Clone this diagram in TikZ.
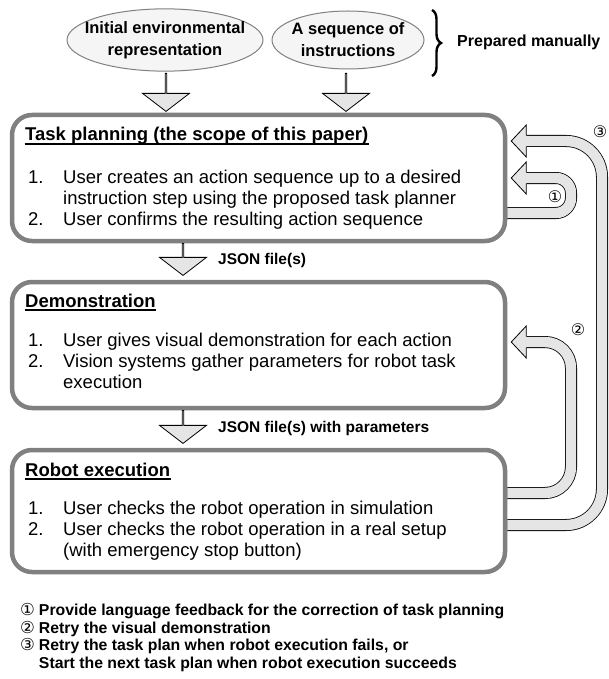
\documentclass[tikz,border=0pt]{standalone}
\usepackage{fontspec}
\setmainfont{Liberation Sans}
\newfontfamily\circfont{DejaVu Sans}
\usetikzlibrary{shapes.geometric,shapes.arrows,decorations.pathreplacing,calc}

\begin{document}
\begin{tikzpicture}[x=1pt, y=-1pt,
    source/.style={ellipse, draw=gray, line width=1pt, fill=gray!8, inner xsep=-14pt, minimum height=58pt, align=center, font=\fontsize{16.5}{22}\selectfont\bfseries},
    stage/.style={draw=gray, line width=4.5pt, rounded corners=20pt, minimum width=493pt},
    heading/.style={anchor=base west, inner sep=0pt, font=\fontsize{18.5}{21}\selectfont\bfseries},
    underbar/.style={line width=1.4pt, shorten <=-0.5pt, shorten >=-0.5pt},
    items/.style={anchor=base west, inner sep=0pt, font=\fontsize{18.5}{21}\selectfont},
    flow/.style={single arrow, draw, fill=gray!20, line width=0.8pt, rotate=-90, anchor=tail, inner sep=0pt, minimum width=47pt, single arrow head extend=12.5pt, single arrow tip angle=105},
    filelabel/.style={anchor=west, inner sep=0pt, font=\fontsize{15.5}{18}\selectfont\bfseries},
    band/.style={line width=10.4pt, gray!20, preaction={draw=black, line width=12pt}},
    loopnum/.style={font=\fontsize{16}{18}\selectfont\circfont}
]
\useasboundingbox (0,0) rectangle (609,679);

% Inputs prepared by hand
\node[source, minimum width=196pt] (envrep) at (165,40) {Initial environmental\\representation};
\node[source, minimum width=152pt] (instr) at (348,40) {A sequence of\\instructions};
\draw[decorate, decoration={brace, amplitude=9pt}, line width=2.4pt] (432,10) -- (432,76);
\node[anchor=west, inner sep=0pt, font=\fontsize{16}{18}\selectfont\bfseries] (prep) at (457,42) {Prepared manually};

% Stages
\node[stage, minimum height=126pt] (plan) at (258.5,178) {};
\node[stage, minimum height=126pt] (demo) at (258.5,345) {};
\node[stage, minimum height=122pt] (exec) at (258.5,511) {};

% Stage texts
\node[heading] (planhead) at (25,141) {Task planning (the scope of this paper)};
\node[items] (planitems) at (28,183) {\begin{tabular}[t]{@{}p{35pt}@{}l@{}}
1.&User creates an action sequence up to a desired\\
  &instruction step using the proposed task planner\\
2.&User confirms the resulting action sequence
\end{tabular}};
\node[heading] (demohead) at (25,307) {Demonstration};
\node[items] (demoitems) at (28,346) {\begin{tabular}[t]{@{}p{35pt}@{}l@{}}
1.&User gives visual demonstration for each action\\
2.&Vision systems gather parameters for robot task\\
  &execution
\end{tabular}};
\node[heading] (exechead) at (25,476) {Robot execution};
\node[items] (execitems) at (28,514) {\begin{tabular}[t]{@{}p{35pt}@{}l@{}}
1.&User checks the robot operation in simulation\\
2.&User checks the robot operation in a real setup\\
  &(with emergency stop button)
\end{tabular}};
\foreach \h in {planhead,demohead,exechead}
  \draw[underbar] ($(\h.base west)+(0,3)$) -- ($(\h.base east)+(0,3)$);

% Block arrows down
\node[flow, minimum height=38pt] (down1) at (166,73) {};
\node[flow, minimum height=38pt] (down2) at (346,73) {};
\node[flow, minimum height=32pt] (down3) at (183,243) {};
\node[flow, minimum height=33pt] (down4) at (183,410) {};
\node[filelabel] (json1) at (218,260) {JSON file(s)};
\node[filelabel] (json2) at (218,428) {JSON file(s) with parameters};

% Feedback loops
\coordinate (s1) at ($(plan.east)+(0,35)$);
\coordinate (t1) at ($(plan.east)+(4,0)$);
\coordinate (s2) at ($(exec.east)+(0,-18)$);
\coordinate (t2) at ($(demo.east)+(4,-3)$);
\coordinate (s3) at ($(exec.east)+(0,14)$);
\coordinate (t3) at ($(plan.east)+(4,-37)$);
\draw[band, rounded corners=15pt] (s1) -- (s1 -| 571,0) -- (t1 -| 571,0) -- ($(t1)+(14,0)$);
\draw[band, rounded corners=26pt] (s2) -- (s2 -| 571,0) -- (t2 -| 571,0) -- ($(t2)+(14,0)$);
\draw[band, rounded corners=36pt] (s3) -- (s3 -| 602,0) -- (t3 -| 602,0) -- ($(t3)+(14,0)$);
\foreach \t in {t1,t2,t3} {
  \fill[gray!20] ($(\t)+(15,-16)$) -- (\t) -- ($(\t)+(15,16)$) -- cycle;
  \draw[line width=0.8pt, line join=miter] ($(\t)+(15,-5.6)$) -- ($(\t)+(15,-16)$) -- (\t) -- ($(\t)+(15,16)$) -- ($(\t)+(15,5.6)$);
}
\node[loopnum] (n1) at (555,197) {①};
\node[loopnum] (n2) at (578,330) {②};
\node[loopnum] (n3) at (600,132) {③};

% Legend
\node[anchor=north west, inner sep=0pt, font=\fontsize{15.8}{17.7}\selectfont\bfseries] (legend) at (20,603) {\begin{tabular}{@{}l@{\hspace{4pt}}l@{}}
{\circfont\mdseries\fontsize{16.5}{17.7}\selectfont ①}&Provide language feedback for the correction of task planning\\
{\circfont\mdseries\fontsize{16.5}{17.7}\selectfont ②}&Retry the visual demonstration\\
{\circfont\mdseries\fontsize{16.5}{17.7}\selectfont ③}&Retry the task plan when robot execution fails, or\\
 &Start the next task plan when robot execution succeeds
\end{tabular}};

\end{tikzpicture}
\end{document}
